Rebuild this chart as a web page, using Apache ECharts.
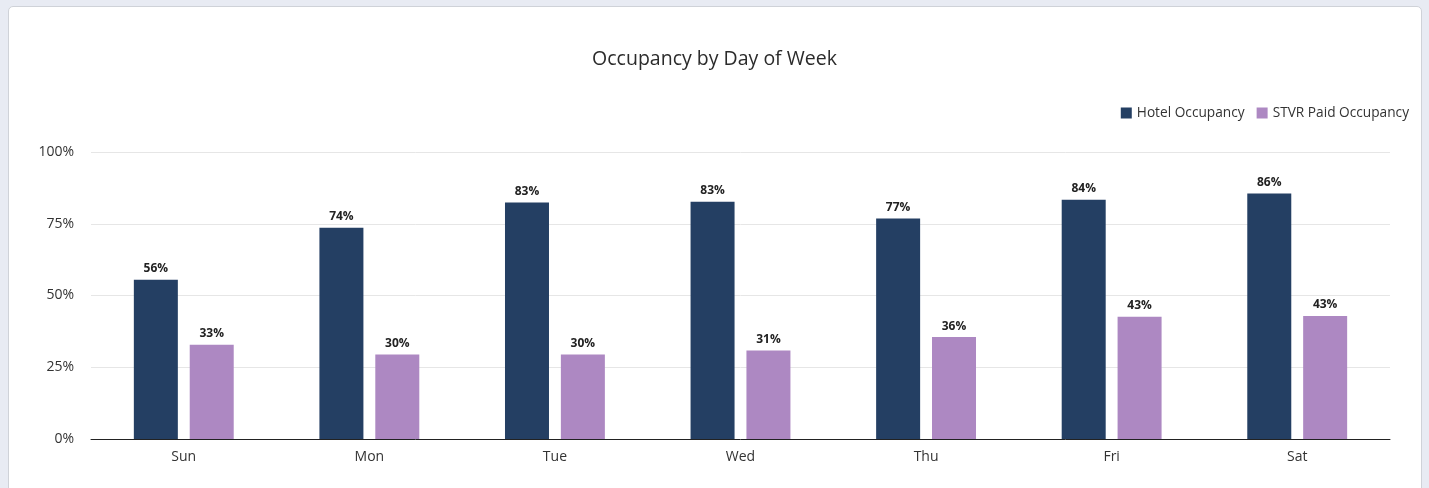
<!DOCTYPE html>
<html>
<head>
<meta charset="utf-8">
<script src="https://cdn.jsdelivr.net/npm/echarts@6/dist/echarts.min.js"></script>
<style>
  html, body { margin: 0; padding: 0; width: 1429px; height: 488px; overflow: hidden; background: #e8ebf3; }
  #card { position: absolute; left: 8px; top: 6px; width: 1414px; height: 500px; background: #fff; border: 1px solid #cfd2d8; border-radius: 5px; box-sizing: border-box; }
  #chart { position: absolute; left: 0; top: 0; width: 1429px; height: 488px; }
</style>
</head>
<body>
<div id="card"></div>
<div id="chart"></div>
<script>
const categories = ['Sun', 'Mon', 'Tue', 'Wed', 'Thu', 'Fri', 'Sat'];
const hotelOccupancy = [55.5, 73.6, 82.4, 82.7, 76.8, 83.4, 85.5];
const stvrPaidOccupancy = [32.8, 29.4, 29.4, 30.8, 35.5, 42.6, 42.9];
const yTicks = [0, 25, 50, 75, 100];
const seriesNames = ['Hotel Occupancy', 'STVR Paid Occupancy'];

const chart = echarts.init(document.getElementById('chart'), null, { renderer: 'canvas' });
const fontFamily = '"Open Sans", "Noto Sans", sans-serif';
const labelCfg = {
  show: true, position: 'top', distance: 5,
  color: '#222', fontWeight: 'bold', fontSize: 12, fontFamily,
  formatter: p => Math.ceil(p.value) + '%'
};
chart.setOption({
  backgroundColor: 'transparent',
  textStyle: { fontFamily },
  title: {
    text: 'Occupancy by Day of Week', left: 'center', top: 44,
    textStyle: { fontSize: 19.5, fontWeight: 'normal', color: '#2b2b2b', fontFamily }
  },
  legend: {
    right: 15, top: 101, itemWidth: 11, itemHeight: 11, itemGap: 12,
    icon: 'rect',
    textStyle: { fontSize: 13.7, color: '#333', fontFamily },
    data: seriesNames
  },
  grid: { left: 91, right: 39, top: 152, bottom: 49 },
  xAxis: {
    type: 'category', data: categories,
    axisLine: { lineStyle: { color: '#222', width: 1 } },
    axisTick: { show: false },
    axisLabel: { fontSize: 14, color: '#333', margin: 11, fontFamily }
  },
  yAxis: {
    type: 'value', min: 0, max: 100, interval: 25,
    axisLabel: { fontSize: 14, color: '#333', margin: 17, fontFamily, formatter: v => yTicks.includes(v) ? v + '%' : '' },
    splitLine: { lineStyle: { color: '#e6e6e6' } },
    axisLine: { show: false }, axisTick: { show: false }
  },
  series: [
    { name: seriesNames[0], type: 'bar', data: hotelOccupancy, barWidth: 44, barGap: '27%',
      itemStyle: { color: '#243f63' }, label: labelCfg },
    { name: seriesNames[1], type: 'bar', data: stvrPaidOccupancy, barWidth: 44,
      itemStyle: { color: '#ad88c2' }, label: labelCfg }
  ]
});
</script>
</body>
</html>
